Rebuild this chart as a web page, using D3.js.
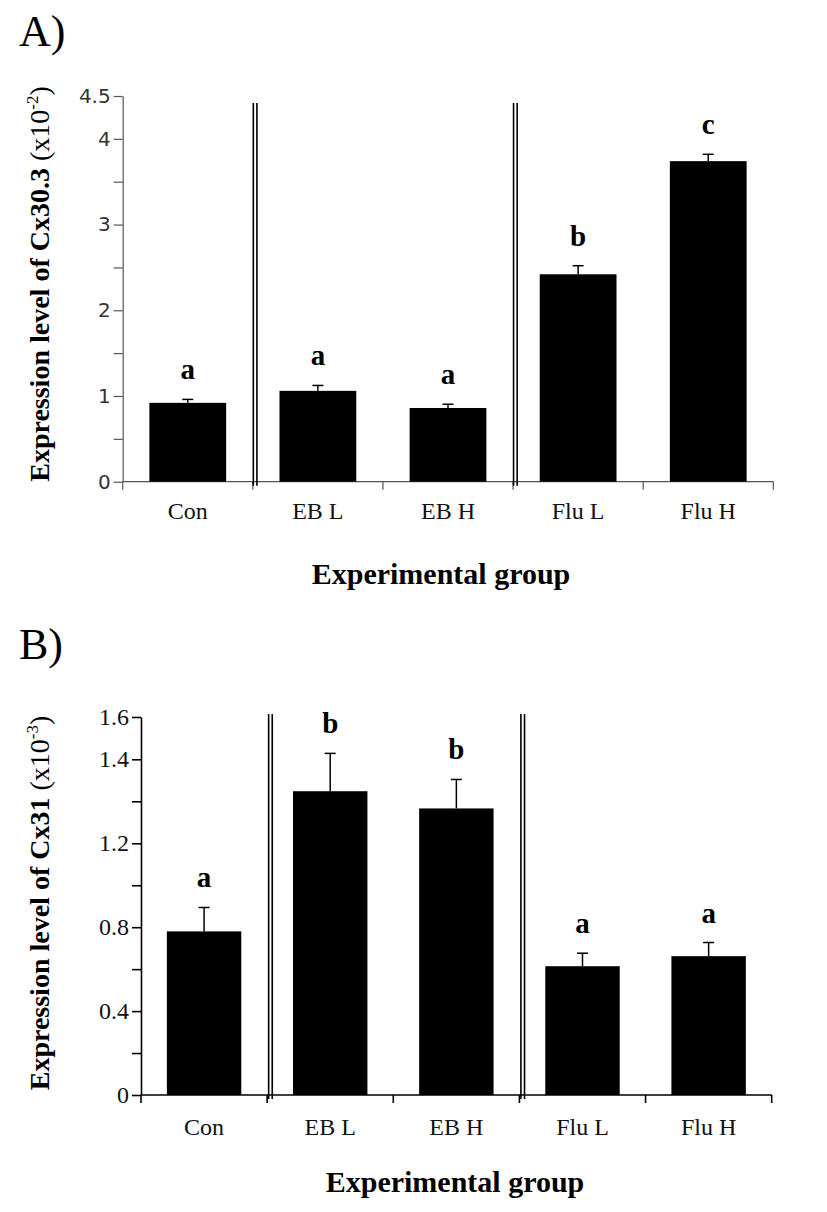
<!DOCTYPE html>
<html>
<head>
<meta charset="utf-8">
<script src="https://cdn.jsdelivr.net/npm/d3@7"></script>
<style>
  html, body { margin: 0; padding: 0; background: #fff; }
  svg { display: block; }
</style>
</head>
<body>
<script>
// ---------- data ----------
const categories = ["Con", "EB L", "EB H", "Flu L", "Flu H"];

const cx303Mean = [0.92, 1.06, 0.86, 2.42, 3.74];
const cx303Err = [0.04, 0.063, 0.044, 0.10, 0.08];
const cx303Letters = ["a", "a", "a", "b", "c"];
const cx303Ticks = [0, 0.5, 1, 1.5, 2, 2.5, 3, 3.5, 4, 4.5];
const cx303TickLabels = ["0", "", "1", "", "2", "", "3", "", "4", "4.5"];

const cx31Mean = [0.78, 1.324, 1.283, 0.614, 0.662];
const cx31Err = [0.114, 0.104, 0.069, 0.062, 0.065];
const cx31Letters = ["a", "b", "b", "a", "a"];
const cx31Ticks = [0, 0.2, 0.4, 0.6, 0.8, 1.0, 1.2, 1.3, 1.4, 1.6];
const cx31TickLabels = ["0", "", "0.4", "", "0.8", "", "1.2", "", "1.4", "1.6"];

const separatorsAfter = ["Con", "EB H"];

// ---------- drawing ----------
const W = 827, H = 1212;
const svg = d3.select("body").append("svg").attr("width", W).attr("height", H);
const serif = "'Liberation Serif', 'Times New Roman', serif";

function panel(opts) {
  const g = svg.append("g");
  const x = d3.scaleBand().domain(categories).range([opts.left, opts.right]).paddingInner(0.41).paddingOuter(0.205);
  const xb = d3.scaleBand().domain(categories).range([opts.left, opts.right]);
  const y = opts.y;

  // panel letter
  g.append("text").attr("x", 19).attr("y", opts.letterY)
    .attr("font-family", serif).attr("font-size", 44).text(opts.letter);

  // y axis
  const yAxis = d3.axisLeft(y).tickValues(opts.ticks).tickSize(9).tickSizeOuter(0)
    .tickFormat((d, i) => opts.tickLabels[i]);
  const ya = g.append("g").attr("transform", `translate(${opts.left},0)`).call(yAxis);
  ya.select(".domain").attr("stroke", opts.axisColor).attr("stroke-width", opts.axisWidth);
  ya.selectAll(".tick line").attr("stroke", opts.axisColor).attr("stroke-width", opts.axisWidth);
  ya.selectAll(".tick text").attr("font-family", opts.tickFont).attr("font-size", opts.tickSize)
    .attr("fill", opts.tickColor).attr("x", -12);

  // x axis with ticks at band boundaries
  const bounds = categories.map(c => xb(c)).concat([opts.right]);
  g.append("line").attr("x1", opts.left).attr("x2", opts.right)
    .attr("y1", y(0)).attr("y2", y(0)).attr("stroke", opts.axisColor).attr("stroke-width", opts.axisWidth);
  g.selectAll(".xt").data(bounds).join("line")
    .attr("x1", d => d).attr("x2", d => d).attr("y1", y(0)).attr("y2", y(0) + 8)
    .attr("stroke", opts.axisColor).attr("stroke-width", opts.axisWidth);
  g.selectAll(".xl").data(categories).join("text")
    .attr("x", d => xb(d) + xb.bandwidth() / 2).attr("y", opts.catY)
    .attr("text-anchor", "middle").attr("font-family", serif).attr("font-size", 24)
    .attr("fill", "#111").text(d => d);

  // separators (double lines)
  separatorsAfter.forEach(c => {
    const bx = xb(c) + xb.bandwidth();
    [opts.sepOff, opts.sepOff + 3.6].forEach(o => {
      g.append("line").attr("x1", bx + o).attr("x2", bx + o)
        .attr("y1", opts.sepTop).attr("y2", y(0) + 4)
        .attr("stroke", "#000").attr("stroke-width", 1.6);
    });
  });

  // bars
  g.selectAll(".bar").data(categories).join("rect")
    .attr("x", d => x(d)).attr("width", x.bandwidth())
    .attr("y", (d, i) => y(opts.mean[i])).attr("height", (d, i) => y(0) - y(opts.mean[i]))
    .attr("fill", "#000");

  // error bars (upper only)
  g.selectAll(".eb").data(categories).join("line")
    .attr("x1", d => x(d) + x.bandwidth() / 2).attr("x2", d => x(d) + x.bandwidth() / 2)
    .attr("y1", (d, i) => y(opts.mean[i])).attr("y2", (d, i) => y(opts.mean[i] + opts.err[i]))
    .attr("stroke", "#000").attr("stroke-width", 1.5);
  g.selectAll(".cap").data(categories).join("line")
    .attr("x1", d => x(d) + x.bandwidth() / 2 - 5.5).attr("x2", d => x(d) + x.bandwidth() / 2 + 5.5)
    .attr("y1", (d, i) => y(opts.mean[i] + opts.err[i])).attr("y2", (d, i) => y(opts.mean[i] + opts.err[i]))
    .attr("stroke", "#000").attr("stroke-width", 1.5);

  // significance letters
  g.selectAll(".sig").data(categories).join("text")
    .attr("x", d => x(d) + x.bandwidth() / 2)
    .attr("y", (d, i) => y(opts.mean[i] + opts.err[i]) - 20)
    .attr("text-anchor", "middle").attr("font-family", serif).attr("font-weight", "bold")
    .attr("font-size", 29).text((d, i) => opts.letters[i]);

  // y title
  const yt = g.append("text")
    .attr("transform", `translate(${opts.yTitleX},${opts.yTitleY}) rotate(-90)`)
    .attr("text-anchor", "middle").attr("font-family", serif).attr("font-weight", "bold")
    .attr("font-size", 28);
  yt.append("tspan").text(opts.yTitle);
  yt.append("tspan").attr("font-weight", "normal").text(" (x10");
  yt.append("tspan").attr("font-weight", "normal").attr("font-size", 17).attr("dy", -11).text(opts.yExp);
  yt.append("tspan").attr("font-weight", "normal").attr("dy", 11).text(")");

  // x title
  g.append("text").attr("x", opts.xTitleX).attr("y", opts.xTitleY)
    .attr("text-anchor", "middle").attr("font-family", serif).attr("font-weight", "bold")
    .attr("font-size", 30).text("Experimental group");
}

panel({
  letter: "A)", letterY: 46,
  left: 122.7, right: 773.3,
  y: d3.scaleLinear().domain([0, 4.5]).range([481.7, 96]),
  ticks: cx303Ticks, tickLabels: cx303TickLabels,
  tickFont: "'DejaVu Sans', sans-serif", tickSize: 20, tickColor: "#333",
  axisColor: "#555", axisWidth: 1.2,
  mean: cx303Mean, err: cx303Err, letters: cx303Letters,
  catY: 519, sepTop: 103, sepOff: 0.5,
  yTitle: "Expression level of Cx30.3", yExp: "-2", yTitleX: 49, yTitleY: 284,
  xTitleX: 441, xTitleY: 584
});

panel({
  letter: "B)", letterY: 659,
  left: 141, right: 771.7,
  y: d3.scaleLinear().domain([0, 1.2, 1.4, 1.6]).range([1095, 843.3, 759.3, 717]),
  ticks: cx31Ticks, tickLabels: cx31TickLabels,
  tickFont: serif, tickSize: 24, tickColor: "#111",
  axisColor: "#000", axisWidth: 1.6,
  mean: cx31Mean, err: cx31Err, letters: cx31Letters,
  catY: 1135, sepTop: 714, sepOff: 1.5,
  yTitle: "Expression level of Cx31", yExp: "-3", yTitleX: 49, yTitleY: 903,
  xTitleX: 455, xTitleY: 1192
});
</script>
</body>
</html>
